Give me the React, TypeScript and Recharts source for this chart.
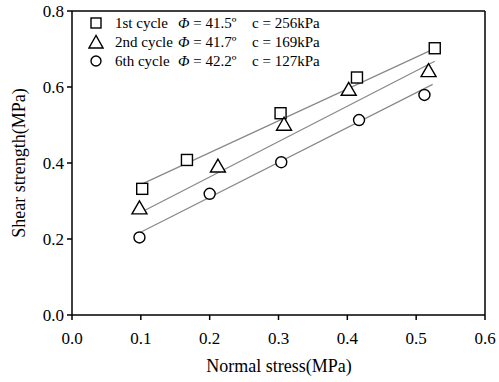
import React from 'react';
import { ComposedChart, XAxis, YAxis, Scatter, Line, ReferenceLine } from 'recharts';

const xTicks = [0, 0.1, 0.2, 0.3, 0.4, 0.5, 0.6];
const yTicks = [0, 0.2, 0.4, 0.6, 0.8];

const cycle1X = [0.102, 0.167, 0.303, 0.414, 0.527];
const cycle1Y = [0.332, 0.408, 0.531, 0.625, 0.702];
const cycle2X = [0.098, 0.212, 0.308, 0.402, 0.518];
const cycle2Y = [0.282, 0.392, 0.502, 0.594, 0.643];
const cycle6X = [0.098, 0.2, 0.304, 0.417, 0.512];
const cycle6Y = [0.204, 0.319, 0.402, 0.513, 0.579];

const fit1X = [0.102, 0.522];
const fit1Y = [0.345, 0.697];
const fit2X = [0.099, 0.527];
const fit2Y = [0.269, 0.668];
const fit6X = [0.099, 0.524];
const fit6Y = [0.217, 0.607];

const legendRows = [
  { name: '1st cycle', phi: '41.5', c: '256kPa', shape: 'square' },
  { name: '2nd cycle', phi: '41.7', c: '169kPa', shape: 'triangle' },
  { name: '6th cycle', phi: '42.2', c: '127kPa', shape: 'circle' },
];

const zip = (xs: number[], ys: number[]) => xs.map((x, i) => ({ x, y: ys[i] }));

const FONT = '"Liberation Serif", "Times New Roman", serif';

const Square = (p: any) => (
  <rect x={p.cx - 5.5} y={p.cy - 5.5} width={11} height={11} fill="#fff" stroke="#000" strokeWidth={1.4} />
);
const Triangle = (p: any) => (
  <polygon
    points={`${p.cx},${p.cy - 7} ${p.cx - 7.5},${p.cy + 6} ${p.cx + 7.5},${p.cy + 6}`}
    fill="#fff"
    stroke="#000"
    strokeWidth={1.4}
  />
);
const Circle = (p: any) => <circle cx={p.cx} cy={p.cy} r={5.5} fill="#fff" stroke="#000" strokeWidth={1.4} />;

const LegendMarker = ({ shape }: { shape: string }) => (
  <svg width={16} height={16} style={{ position: 'absolute', left: 0, top: 0 }}>
    {shape === 'square' && <rect x={3} y={3} width={10} height={10} fill="#fff" stroke="#000" strokeWidth={1.4} />}
    {shape === 'triangle' && <polygon points="8,1.5 1,14 15,14" fill="#fff" stroke="#000" strokeWidth={1.4} />}
    {shape === 'circle' && <circle cx={8} cy={8} r={5} fill="#fff" stroke="#000" strokeWidth={1.4} />}
  </svg>
);

const LegendBox = () => (
  <div style={{ position: 'absolute', left: 88, top: 15, width: 270, height: 60, fontFamily: FONT, fontSize: 15, lineHeight: '16px', color: '#000' }}>
    {legendRows.map((r, i) => (
      <div key={r.name} style={{ position: 'absolute', left: 0, top: i * 19, height: 16, width: 270 }}>
        <LegendMarker shape={r.shape} />
        <span style={{ position: 'absolute', left: 27, top: 0, whiteSpace: 'nowrap' }}>{r.name}</span>
        <span style={{ position: 'absolute', left: 90, top: 0, whiteSpace: 'nowrap' }}>
          <i>Φ</i> = {r.phi}º
        </span>
        <span style={{ position: 'absolute', left: 164, top: 0, whiteSpace: 'nowrap' }}>c = {r.c}</span>
      </div>
    ))}
  </div>
);

const YLabel = () => (
  <text x={19} y={163} transform="rotate(-90 19 163)" textAnchor="middle" dominantBaseline="central" style={{ fontFamily: FONT }} fontSize={18} fill="#000">
    Shear strength(MPa)
  </text>
);
const XLabel = () => (
  <text x={279} y={366} textAnchor="middle" dominantBaseline="central" style={{ fontFamily: FONT }} fontSize={18} fill="#000">
    Normal stress(MPa)
  </text>
);

const XTick = (p: any) => (
  <text x={p.x} y={p.y + 16} textAnchor="middle" dominantBaseline="central" style={{ fontFamily: FONT }} fontSize={17} fill="#000">
    {Number(p.payload.value).toFixed(1)}
  </text>
);
const YTick = (p: any) => (
  <text x={p.x - 1} y={p.y} textAnchor="end" dominantBaseline="central" style={{ fontFamily: FONT }} fontSize={17} fill="#000">
    {Number(p.payload.value).toFixed(1)}
  </text>
);

export default function App() {
  return (
    <div style={{ position: 'absolute', left: 0, top: 0, width: 499, height: 382, background: '#fff', fontFamily: FONT }}>
      <ComposedChart width={499} height={382} margin={{ top: 11, right: 14, left: 0, bottom: 0 }}>
        <XAxis
          type="number"
          dataKey="x"
          domain={[0, 0.6]}
          ticks={xTicks}
          stroke="#000"
          strokeWidth={1.5}
          tickSize={5}
          tick={XTick}
          height={67}
          allowDataOverflow
          label={{ content: () => <XLabel /> }}
        />
        <YAxis
          type="number"
          dataKey="y"
          domain={[0, 0.8]}
          ticks={yTicks}
          stroke="#000"
          strokeWidth={1.5}
          tickSize={5}
          tick={YTick}
          width={72}
          allowDataOverflow
          label={{ content: () => <YLabel /> }}
        />
        <ReferenceLine y={0.8} stroke="#000" strokeWidth={1.5} />
        <ReferenceLine x={0.6} stroke="#000" strokeWidth={1.5} />
        <Line data={zip(fit1X, fit1Y)} dataKey="y" stroke="#888" strokeWidth={1.2} dot={false} isAnimationActive={false} />
        <Line data={zip(fit2X, fit2Y)} dataKey="y" stroke="#888" strokeWidth={1.2} dot={false} isAnimationActive={false} />
        <Line data={zip(fit6X, fit6Y)} dataKey="y" stroke="#888" strokeWidth={1.2} dot={false} isAnimationActive={false} />
        <Scatter data={zip(cycle1X, cycle1Y)} dataKey="y" shape={Square} isAnimationActive={false} />
        <Scatter data={zip(cycle2X, cycle2Y)} dataKey="y" shape={Triangle} isAnimationActive={false} />
        <Scatter data={zip(cycle6X, cycle6Y)} dataKey="y" shape={Circle} isAnimationActive={false} />
      </ComposedChart>
      <LegendBox />
    </div>
  );
}
